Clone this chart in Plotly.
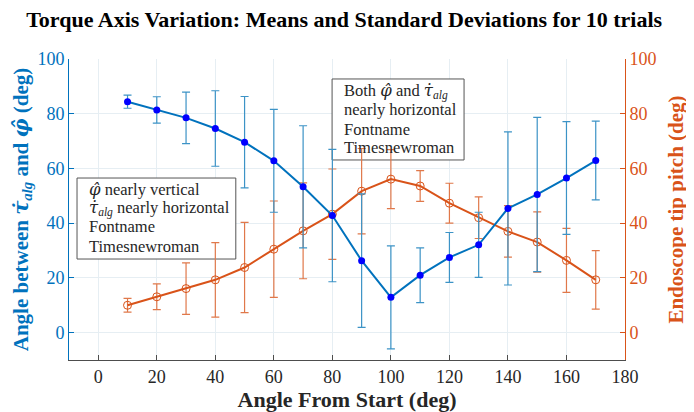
import plotly.graph_objects as go

angle = [10, 20, 30, 40, 50, 60, 70, 80, 90, 100, 110, 120, 130, 140, 150, 160, 170]
torque_mean = [84.4, 81.4, 78.5, 74.6, 69.6, 62.8, 53.3, 42.8, 26.3, 12.9, 21.0, 27.5, 32.1, 45.4, 50.5, 56.5, 62.9]
torque_std = [2.4, 4.8, 9.4, 13.8, 16.7, 18.8, 22.3, 24.2, 24.4, 18.8, 10.0, 9.1, 11.9, 28.0, 28.2, 20.6, 14.4]
pitch_mean = [10.0, 13.1, 16.1, 19.3, 23.8, 30.5, 37.2, 43.3, 51.7, 56.1, 53.6, 47.3, 42.0, 37.0, 33.1, 26.4, 19.3]
pitch_std = [2.5, 4.7, 9.4, 13.6, 16.5, 17.6, 17.5, 16.5, 15.6, 10.8, 5.6, 7.3, 7.6, 9.4, 11.0, 11.7, 10.7]
x_ticks = [0, 20, 40, 60, 80, 100, 120, 140, 160, 180]
y_ticks = [0, 20, 40, 60, 80, 100]

BLUE = "#0072BD"
ORANGE = "#D95319"
FONT = "Liberation Serif"
TXT = "#262626"

PHI = '<span style="font-family:DejaVu Serif"><i>φ̂</i></span>'
TAU = '<span style="font-family:DejaVu Serif"><i>τ̇</i></span><sub><i>alg</i></sub>'

left_box_lines = [f"{PHI} nearly vertical", f"{TAU} nearly horizontal", "Fontname", "Timesnewroman"]
right_box_lines = [f"Both {PHI} and {TAU}", "nearly horizontal", "Fontname", "Timesnewroman"]

fig = go.Figure()
# orange series on the (right-side) primary axis, drawn below
fig.add_trace(go.Scatter(
    x=angle, y=pitch_mean, yaxis="y", mode="lines+markers",
    line=dict(color=ORANGE, width=2),
    marker=dict(symbol="circle-open", size=8, color=ORANGE, line=dict(width=1)),
    error_y=dict(type="data", array=pitch_std, visible=True, color="#E0784A", thickness=1.2, width=4),
    showlegend=False))
# blue series on the (left-side) overlaying axis, drawn on top
fig.add_trace(go.Scatter(
    x=angle, y=torque_mean, yaxis="y2", mode="lines+markers",
    line=dict(color=BLUE, width=2),
    marker=dict(symbol="circle", size=7, color="#0000FF"),
    error_y=dict(type="data", array=torque_std, visible=True, color="#3C93C6", thickness=1.2, width=4),
    showlegend=False))

fig.update_layout(
    width=686, height=404,
    margin=dict(l=61, r=69, t=51, b=52),
    paper_bgcolor="white", plot_bgcolor="white",
    font=dict(family=FONT, size=18, color=TXT),
    title=dict(text="<b>Torque Axis Variation: Means and Standard Deviations for 10 trials</b>",
               x=(30 + 665) / 2 / 686 - 8 / 686, xanchor="center", xref="paper",
               y=1 - 11 / 404, yanchor="middle",
               font=dict(family=FONT, size=22, color="black")),
    xaxis=dict(range=[-10, 180], tickvals=x_ticks, showgrid=True, gridcolor="#E6EEF3",
               showline=True, linecolor="#4D4D4D", linewidth=1, ticks="inside", ticklen=5,
               tickcolor="#4D4D4D", mirror=False, zeroline=False, automargin=False,
               tickfont=dict(family=FONT, size=18, color=TXT),
               title=dict(text="<b>Angle From Start (deg)</b>", standoff=2,
                          font=dict(family=FONT, size=22, color=TXT))),
    yaxis=dict(range=[-10, 100], tickvals=y_ticks, side="right", showgrid=True, gridcolor="#E6EEF3",
               showline=True, linecolor=ORANGE, linewidth=1, ticks="inside", ticklen=5,
               tickcolor=ORANGE, zeroline=False, automargin=False,
               tickfont=dict(family=FONT, size=18, color=ORANGE),
               title=dict(text="<b>Endoscope tip pitch (deg)</b>", standoff=12,
                          font=dict(family=FONT, size=21, color=ORANGE))),
    yaxis2=dict(range=[-10, 100], tickvals=y_ticks, overlaying="y", side="left", showgrid=False,
                showline=True, linecolor=BLUE, linewidth=1, ticks="inside", ticklen=5,
                tickcolor=BLUE, zeroline=False, automargin=False,
                tickfont=dict(family=FONT, size=18, color=BLUE),
                title=dict(text=f"<b>Angle between {TAU} and {PHI} (deg)</b>", standoff=6,
                           font=dict(family=FONT, size=21, color=BLUE))),
)

# text boxes (box corners in axis units, text lines as fractions of the plot area)
boxes = [
    dict(x0=-7.26, x1=47.0, y0=26.9, y1=56.5, tx=0.0324,
         ys=[0.5648, 0.5017, 0.4419, 0.3787], lines=left_box_lines),
    dict(x0=79.9, x1=125.0, y0=63.1, y1=92.7, tx=0.491,
         ys=[0.8904, 0.8306, 0.7674, 0.7076], lines=right_box_lines),
]
for b in boxes:
    fig.add_shape(type="rect", xref="x", yref="y", x0=b["x0"], x1=b["x1"],
                  y0=b["y0"], y1=b["y1"], line=dict(color="#555555", width=1),
                  fillcolor="white", layer="between")
    for yy, line in zip(b["ys"], b["lines"]):
        fig.add_annotation(xref="paper", yref="paper", x=b["tx"], y=yy, xanchor="left",
                           yanchor="middle", text=line, showarrow=False,
                           font=dict(family=FONT, size=16.5, color=TXT))

fig.write_html("out.html")
